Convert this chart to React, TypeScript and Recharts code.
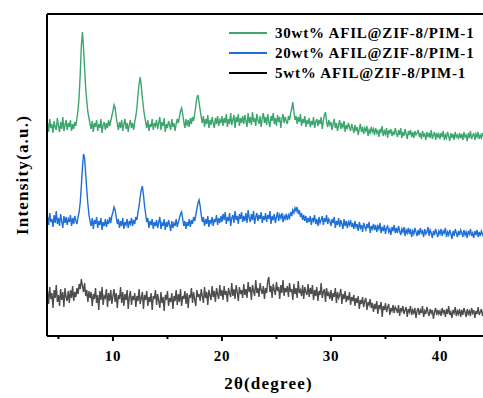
import React from 'react';
import { LineChart, Line, XAxis, YAxis, ReferenceLine, Legend } from 'recharts';

// 2θ sampling: starts at 4.0°, step 0.1°
const X_START = 4.0;
const X_STEP = 0.1;

const green30 = [
  213, 204, 217, 208, 212, 203, 215, 209, 206, 218, 210, 204, 214, 207, 219, 205, 211, 216, 206, 213,
  209, 216, 205, 212, 207, 214, 210, 218, 226, 240, 262, 290, 304, 288, 268, 248, 235, 224, 218, 212,
  207, 215, 204, 213, 209, 216, 205, 212, 208, 217, 203, 211, 214, 206, 213, 208, 216, 210, 215, 220,
  225, 231, 228, 219, 212, 206, 214, 208, 216, 205, 212, 217, 207, 213, 204, 211, 216, 208, 213, 206,
  214, 220, 228, 242, 252, 259, 250, 238, 228, 220, 214, 208, 216, 205, 212, 209, 217, 206, 213, 210,
  216, 207, 213, 219, 206, 214, 210, 218, 204, 212, 208, 215, 211, 206, 217, 209, 213, 205, 212, 217,
  213, 219, 225, 228, 222, 214, 208, 217, 210, 216, 209, 218, 212, 219, 215, 222, 230, 238, 241, 234,
  226, 219, 213, 220, 209, 217, 212, 221, 208, 216, 211, 219, 213, 208, 218, 212, 220, 210, 216, 213,
  220, 210, 218, 213, 222, 209, 217, 212, 223, 211, 216, 221, 208, 219, 214, 222, 210, 218, 213, 220,
  212, 221, 215, 209, 223, 213, 219, 211, 224, 214, 218, 210, 222, 216, 212, 220, 209, 218, 223, 213,
  219, 211, 222, 214, 209, 220, 215, 223, 212, 218, 210, 221, 214, 219, 208, 217, 222, 213, 219, 215,
  212, 220, 216, 223, 227, 234, 224, 216, 220, 212, 219, 214, 222, 210, 217, 213, 220, 209, 216, 212,
  218, 209, 215, 211, 219, 208, 214, 217, 210, 216, 212, 219, 207, 215, 221, 224, 214, 209, 216, 211,
  214, 206, 212, 217, 208, 213, 205, 211, 216, 207, 212, 209, 215, 204, 211, 207, 213, 209, 205, 212,
  208, 203, 211, 205, 209, 201, 207, 212, 204, 209, 202, 208, 205, 210, 200, 206, 203, 209, 204, 207,
  201, 208, 203, 206, 199, 207, 204, 210, 200, 205, 202, 208, 198, 206, 203, 207, 200, 204, 201, 208,
  203, 199, 206, 201, 208, 198, 204, 200, 207, 202, 197, 205, 201, 206, 199, 204, 198, 205, 201, 203,
  206, 199, 203, 197, 205, 200, 202, 196, 204, 199, 203, 198, 206, 197, 201, 204, 196, 203, 199, 202,
  197, 203, 199, 205, 196, 201, 198, 204, 200, 195, 203, 198, 202, 196, 204, 199, 201, 197, 203, 198,
  202, 196, 204, 199, 201, 195, 203, 198, 205, 197, 200, 203, 196, 202, 199, 204, 197, 201, 198, 203,
  199, 203, 197, 201, 198,
];

const blue20 = [
  119, 111, 123, 114, 117, 109, 121, 113, 125, 112, 118, 110, 122, 115, 108, 120, 113, 119, 111, 117,
  114, 121, 110, 118, 112, 120, 115, 112, 119, 124, 134, 150, 168, 182, 178, 162, 146, 132, 121, 115,
  110, 118, 107, 116, 112, 119, 108, 115, 111, 118, 106, 114, 110, 117, 109, 115, 112, 119, 113, 120,
  124, 129, 126, 119, 112, 117, 108, 115, 110, 118, 107, 114, 111, 117, 108, 115, 112, 118, 110, 116,
  112, 119, 116, 124, 130, 139, 146, 150, 141, 130, 122, 114, 118, 108, 115, 111, 117, 107, 114, 110,
  116, 108, 114, 119, 107, 113, 110, 117, 106, 114, 109, 116, 111, 105, 115, 108, 113, 110, 117, 109,
  114, 118, 122, 124, 117, 110, 115, 107, 114, 110, 117, 109, 116, 112, 119, 115, 121, 127, 133, 136,
  130, 121, 114, 119, 110, 117, 112, 120, 109, 116, 113, 119, 110, 117, 114, 121, 111, 118, 113, 120,
  114, 122, 116, 124, 112, 119, 115, 123, 110, 118, 121, 113, 125, 116, 120, 112, 122, 117, 124, 114,
  120, 115, 123, 113, 126, 118, 114, 122, 116, 125, 112, 119, 123, 115, 121, 117, 124, 113, 120, 116,
  123, 114, 121, 117, 125, 112, 120, 116, 122, 113, 119, 124, 115, 121, 118, 123, 114, 120, 117, 122,
  116, 121, 118, 124, 120, 126, 123, 128, 125, 129, 122, 126, 119, 123, 116, 121, 115, 120, 113, 118,
  114, 120, 111, 118, 115, 121, 112, 117, 110, 119, 113, 116, 120, 111, 118, 114, 121, 112, 117, 115,
  110, 117, 113, 119, 108, 115, 111, 118, 109, 116, 112, 107, 117, 110, 115, 108, 114, 111, 116, 109,
  113, 107, 115, 109, 112, 105, 114, 108, 111, 104, 113, 109, 106, 112, 108, 114, 103, 110, 107, 112,
  106, 111, 104, 110, 107, 113, 103, 109, 105, 111, 102, 108, 110, 104, 107, 101, 109, 105, 111, 103,
  108, 103, 110, 105, 101, 107, 104, 109, 100, 106, 103, 108, 102, 107, 99, 105, 102, 108, 104, 100,
  106, 101, 108, 103, 105, 99, 107, 102, 104, 109, 100, 106, 103, 98, 105, 101, 107, 103, 99, 105,
  102, 107, 100, 105, 103, 108, 99, 104, 101, 106, 102, 97, 105, 100, 107, 103, 99, 105, 101, 106,
  103, 99, 106, 101, 104, 98, 105, 102, 107, 100, 103, 98, 105, 101, 106, 99, 104, 100, 105, 102,
  99, 104, 101, 105, 100,
];

const grey5 = [
  45, 32, 49, 37, 43, 28, 46, 38, 51, 34, 41, 30, 47, 36, 44, 29, 48, 39, 35, 45,
  33, 46, 38, 50, 35, 44, 39, 48, 42, 52, 47, 57, 50, 44, 53, 40, 46, 34, 45, 38,
  44, 30, 42, 37, 48, 33, 41, 26, 45, 36, 49, 31, 40, 38, 47, 29, 43, 35, 46, 32,
  40, 47, 34, 43, 28, 41, 37, 49, 33, 44, 30, 42, 36, 46, 27, 39, 45, 31, 40, 36,
  43, 29, 40, 35, 47, 32, 38, 44, 27, 41, 36, 45, 30, 39, 34, 43, 26, 40, 37, 46,
  31, 42, 35, 28, 44, 33, 39, 25, 41, 36, 45, 30, 38, 34, 43, 27, 40, 35, 46, 31,
  42, 34, 47, 30, 40, 37, 45, 32, 43, 28, 41, 38, 48, 33, 44, 36, 30, 46, 39, 42,
  35, 47, 40, 33, 49, 38, 44, 31, 46, 41, 36, 50, 39, 45, 34, 48, 42, 37, 51, 40,
  46, 36, 50, 41, 45, 34, 48, 43, 39, 53, 40, 47, 37, 51, 44, 35, 49, 42, 46, 38,
  52, 41, 47, 38, 54, 44, 49, 36, 51, 45, 40, 56, 43, 48, 39, 53, 46, 42, 50, 37,
  48, 43, 55, 59, 44, 50, 38, 52, 46, 41, 54, 45, 49, 37, 51, 43, 56, 40, 48, 44,
  50, 39, 53, 44, 47, 36, 52, 42, 48, 38, 55, 43, 46, 40, 51, 37, 49, 44, 41, 52,
  39, 48, 42, 51, 36, 46, 40, 49, 35, 45, 41, 53, 38, 44, 47, 34, 48, 40, 43, 37,
  46, 35, 43, 39, 48, 33, 44, 38, 41, 47, 32, 42, 37, 45, 34, 40, 36, 44, 31, 39,
  35, 41, 30, 38, 33, 40, 27, 36, 32, 39, 29, 35, 38, 26, 34, 31, 37, 28, 33, 24,
  32, 27, 35, 22, 31, 28, 34, 19, 30, 26, 33, 24, 29, 32, 21, 28, 25, 31, 23, 29,
  27, 23, 31, 20, 28, 25, 30, 22, 26, 29, 19, 27, 24, 30, 21, 26, 23, 28, 18, 25,
  28, 21, 26, 23, 30, 19, 25, 22, 29, 24, 20, 27, 23, 26, 17, 24, 28, 21, 26, 22,
  25, 20, 28, 23, 26, 19, 27, 22, 30, 21, 24, 18, 26, 23, 29, 20, 25, 22, 27, 19,
  26, 21, 28, 24, 19, 27, 22, 25, 20, 28, 23, 26, 18, 25, 22, 29, 21, 24, 27, 20,
  25, 22, 27, 21, 24,
];

const xTicks = [5, 10, 15, 20, 25, 30, 35, 40];
const labeledTicks = [10, 20, 30, 40];
const seriesNames = ['30wt% AFIL@ZIF-8/PIM-1', '20wt% AFIL@ZIF-8/PIM-1', '5wt% AFIL@ZIF-8/PIM-1'];
const seriesColors = ['#3ca66e', '#1f6fd6', '#4d4d4d'];
const legendColors = ['#3ca66e', '#1f6fd6', '#000000'];

const data = green30.map((g, i) => ({
  x: +(X_START + i * X_STEP).toFixed(1),
  g,
  b: blue20[i],
  k: grey5[i],
}));

const FONT = "'Liberation Serif', 'Times New Roman', serif";

const XTick = (props: any) => {
  const { x, y, payload } = props;
  const v = payload.value;
  const major = labeledTicks.includes(v);
  return (
    <g>
      <line x1={x} x2={x} y1={y} y2={y + (major ? 5 : 3)} stroke="#000" strokeWidth={2} />
      {major && (
        <text x={x} y={y + 25} textAnchor="middle" fontFamily={FONT} fontWeight="bold" fontSize={15} letterSpacing={0.8} fill="#000">
          {v}
        </text>
      )}
    </g>
  );
};

const LegendContent = () => (
  <div style={{ fontFamily: FONT, fontWeight: 'bold', fontSize: 15, letterSpacing: 0.8, color: '#000' }}>
    {seriesNames.map((n, i) => (
      <div key={n} style={{ display: 'flex', alignItems: 'center', height: 20, whiteSpace: 'nowrap' }}>
        <div style={{ width: 38, height: 2, background: legendColors[i], marginRight: 8 }} />
        <span>{n}</span>
      </div>
    ))}
  </div>
);

const YLabel = (props: any) => {
  const vb = props.viewBox || { x: 0, y: 14, width: 47, height: 322 };
  const cx = vb.x + vb.width - 25;
  const cy = vb.y + vb.height / 2;
  return (
    <text
      transform={`translate(${cx},${cy}) rotate(-90)`}
      textAnchor="middle"
      dominantBaseline="central"
      fontFamily={FONT}
      fontWeight="bold"
      fontSize={17}
      letterSpacing={1.2}
      fill="#000"
    >
      Intensity(a.u.)
    </text>
  );
};

export default function App() {
  return (
    <div style={{ position: 'absolute', left: 0, top: 0, width: 483, height: 398, overflow: 'hidden', background: '#fff' }}>
      <LineChart width={490} height={398} data={data} margin={{ top: 14, right: 0, bottom: 0, left: 0 }}>
        <XAxis
          dataKey="x"
          type="number"
          domain={[3.95, 44.59]}
          allowDataOverflow
          ticks={xTicks}
          interval={0}
          tick={<XTick />}
          tickLine={false}
          tickSize={0}
          tickMargin={0}
          height={62}
          axisLine={{ stroke: '#000', strokeWidth: 2 }}
          label={{ value: '2θ(degree)', position: 'insideBottom', offset: 9, fontFamily: FONT, fontWeight: 'bold', fontSize: 17, letterSpacing: 1.2, fill: '#000' }}
        />
        <YAxis
          type="number"
          domain={[0, 322]}
          allowDataOverflow
          tick={false}
          tickLine={false}
          width={47}
          axisLine={{ stroke: '#000', strokeWidth: 2 }}
          label={{ content: (p: any) => <YLabel {...p} /> }}
        />
        <ReferenceLine y={322} stroke="#000" strokeWidth={2} />
        <Legend
          layout="vertical"
          align="center"
          verticalAlign="middle"
          content={<LegendContent />}
          wrapperStyle={{ position: 'absolute', left: 229, top: 23, width: 260 }}
        />
        <Line type="linear" dataKey="g" name={seriesNames[0]} stroke={seriesColors[0]} strokeWidth={1.4} dot={false} isAnimationActive={false} />
        <Line type="linear" dataKey="b" name={seriesNames[1]} stroke={seriesColors[1]} strokeWidth={1.4} dot={false} isAnimationActive={false} />
        <Line type="linear" dataKey="k" name={seriesNames[2]} stroke={seriesColors[2]} strokeWidth={1.4} dot={false} isAnimationActive={false} />
      </LineChart>
    </div>
  );
}
